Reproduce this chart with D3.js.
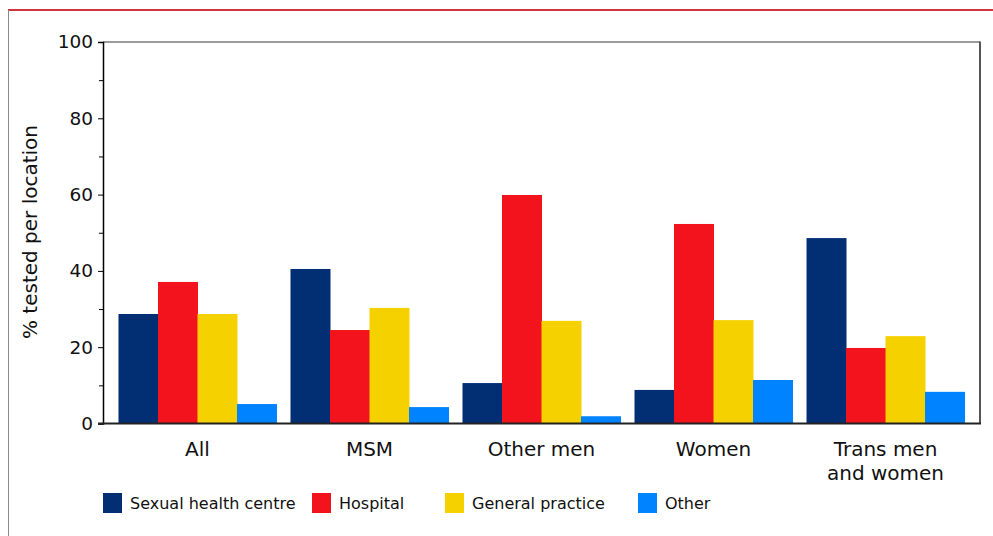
<!DOCTYPE html>
<html><head><meta charset="utf-8">
<script src="https://cdn.jsdelivr.net/npm/d3@7"></script>
<style>body{margin:0;background:#fff;} svg{display:block;font-family:"DejaVu Sans",Verdana,sans-serif;}</style>
</head><body>
<script>
const categories = ["All", "MSM", "Other men", "Women", "Trans men\nand women"];
const seriesNames = ["Sexual health centre", "Hospital", "General practice", "Other"];
const sexualHealthCentre = [28.7, 40.5, 10.6, 8.8, 48.6];
const hospital = [37.1, 24.5, 59.9, 52.3, 19.8];
const generalPractice = [28.7, 30.3, 26.9, 27.1, 22.9];
const other = [5.1, 4.3, 1.9, 11.4, 8.3];
const colors = ["#022F74", "#F2131C", "#F5D100", "#0083FF"];
const yTicks = [0, 20, 40, 60, 80, 100];
const yMinorTicks = [10, 30, 50, 70, 90];

const series = [sexualHealthCentre, hospital, generalPractice, other];
const W = 993, H = 536;
const m = {left: 103, right: 980, top: 42, bottom: 423.5};

const svg = d3.select("body").append("svg").attr("width", W).attr("height", H);

// outer frame lines
svg.append("line").attr("x1", 8).attr("x2", W).attr("y1", 10).attr("y2", 10)
  .attr("stroke", "#D0343C").attr("stroke-width", 2);
svg.append("line").attr("x1", 8.5).attr("x2", 8.5).attr("y1", 10).attr("y2", H)
  .attr("stroke", "#8a8a8a").attr("stroke-width", 1);

const x0 = d3.scaleBand().domain(categories).range([m.left, m.right])
  .paddingInner(0.0814).paddingOuter(0.09);
const x1 = d3.scaleBand().domain(d3.range(series.length)).range([0, x0.bandwidth()]);
const y = d3.scaleLinear().domain([0, 100]).range([m.bottom, m.top]);

// plot frame top & right
svg.append("line").attr("x1", m.left).attr("x2", m.right).attr("y1", m.top).attr("y2", m.top)
  .attr("stroke", "#7a7a7a").attr("stroke-width", 1.5);
svg.append("line").attr("x1", m.right).attr("x2", m.right).attr("y1", m.top - 0.5).attr("y2", m.bottom)
  .attr("stroke", "#555").attr("stroke-width", 2);

// bars
const g = svg.append("g");
categories.forEach((c, ci) => {
  series.forEach((s, si) => {
    g.append("rect")
      .attr("x", x0(c) + x1(si))
      .attr("y", y(s[ci]))
      .attr("width", x1.bandwidth() + 0.5)
      .attr("height", y(0) - y(s[ci]))
      .attr("fill", colors[si]);
  });
});

// y axis
const yAxis = d3.axisLeft(y).tickValues(yTicks).tickSize(5).tickPadding(5);
const ya = svg.append("g").attr("transform", `translate(${m.left},0)`).call(yAxis);
ya.select(".domain").attr("stroke", "#000").attr("stroke-width", 1.5);
ya.selectAll(".tick line").attr("stroke", "#000");
ya.selectAll(".tick text").attr("font-size", 18.5).attr("fill", "#111")
  .attr("font-family", '"DejaVu Sans",Verdana,sans-serif');
const yMinor = d3.axisLeft(y).tickValues(yMinorTicks).tickSize(4).tickFormat("");
const ym = svg.append("g").attr("transform", `translate(${m.left},0)`).call(yMinor);
ym.select(".domain").remove();
ym.selectAll(".tick line").attr("stroke", "#000");

// x baseline
svg.append("line").attr("x1", m.left - 5).attr("x2", m.right + 1).attr("y1", y(0)).attr("y2", y(0))
  .attr("stroke", "#222").attr("stroke-width", 2);

// category labels
const xa = d3.axisBottom(x0).tickSize(0).tickFormat("");
svg.append("g").attr("transform", `translate(0,${y(0)})`).call(xa).select(".domain").remove();
categories.forEach(c => {
  const lines = c.split("\n");
  const t = svg.append("text").attr("x", x0(c) + x0.bandwidth() / 2).attr("y", 456)
    .attr("text-anchor", "middle").attr("font-size", 20).attr("fill", "#111");
  lines.forEach((l, i) => t.append("tspan").attr("x", x0(c) + x0.bandwidth() / 2)
    .attr("dy", i === 0 ? 0 : 23.5).text(l));
});

// y title
svg.append("text").attr("transform", "translate(37,232) rotate(-90)")
  .attr("text-anchor", "middle").attr("font-size", 20).attr("fill", "#111")
  .text("% tested per location");

// legend
const legendX = [103, 312, 445, 638];
seriesNames.forEach((n, i) => {
  svg.append("rect").attr("x", legendX[i]).attr("y", 493).attr("width", 19).attr("height", 20)
    .attr("fill", colors[i]);
  svg.append("text").attr("x", legendX[i] + 27).attr("y", 509).attr("font-size", 16)
    .attr("fill", "#111").text(n);
});
</script>
</body></html>
